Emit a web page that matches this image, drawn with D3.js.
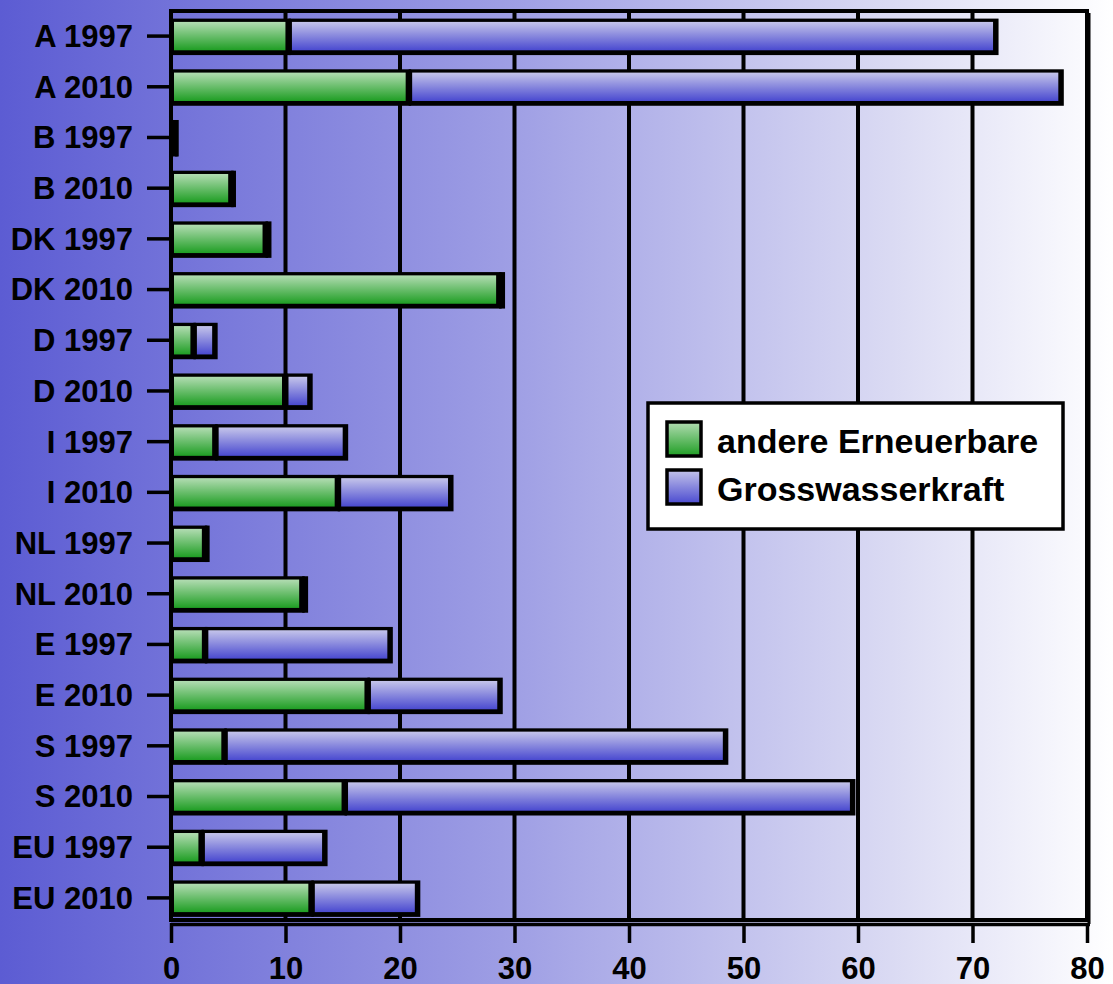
<!DOCTYPE html>
<html>
<head>
<meta charset="utf-8">
<script src="https://cdn.jsdelivr.net/npm/d3@7"></script>
<style>
  html, body { margin: 0; padding: 0; background: #fff; }
  svg { display: block; font-family: "Liberation Sans", Arial, sans-serif; font-weight: bold; }
</style>
</head>
<body>
<svg id="chart"></svg>
<script>
var categories = ["A 1997", "A 2010", "B 1997", "B 2010", "DK 1997", "DK 2010", "D 1997", "D 2010",
  "I 1997", "I 2010", "NL 1997", "NL 2010", "E 1997", "E 2010", "S 1997", "S 2010", "EU 1997", "EU 2010"];
var andereErneuerbare = [10.3, 20.8, 0.4, 5.3, 8.3, 28.7, 2.0, 10.0, 3.9, 14.6, 3.0, 11.5, 3.0, 17.2, 4.7, 15.2, 2.7, 12.3];
var grosswasserkraft = [61.8, 57.0, 0.1, 0.2, 0.3, 0.3, 1.9, 2.2, 11.4, 9.9, 0.2, 0.3, 16.2, 11.6, 43.8, 44.4, 10.8, 9.3];
var xTicks = [0, 10, 20, 30, 40, 50, 60, 70, 80];
var seriesNames = ["andere Erneuerbare", "Grosswasserkraft"];

var width = 1113;
var height = 984;
var mLeft = 171, mRight = 1087, mTop = 11, mBottom = 920;

var svg = d3.select("#chart").attr("width", width).attr("height", height);
var defs = svg.append("defs");

var bg = defs.append("linearGradient").attr("id", "bg").attr("x1", 0).attr("x2", 1).attr("y1", 0).attr("y2", 0);
bg.append("stop").attr("offset", 0).attr("stop-color", "#5c5cd3");
bg.append("stop").attr("offset", 0.45).attr("stop-color", "#9d9de4");
bg.append("stop").attr("offset", 0.8).attr("stop-color", "#dadaf3");
bg.append("stop").attr("offset", 1).attr("stop-color", "#ffffff");

var gGreen = defs.append("linearGradient").attr("id", "gGreen").attr("x1", 0).attr("x2", 0).attr("y1", 0).attr("y2", 1);
gGreen.append("stop").attr("offset", 0).attr("stop-color", "#b2dcb2");
gGreen.append("stop").attr("offset", 1).attr("stop-color", "#1f9e24");
var gBlue = defs.append("linearGradient").attr("id", "gBlue").attr("x1", 0).attr("x2", 0).attr("y1", 0).attr("y2", 1);
gBlue.append("stop").attr("offset", 0).attr("stop-color", "#c4c4ea");
gBlue.append("stop").attr("offset", 1).attr("stop-color", "#4a4ad0");
var fills = ["url(#gGreen)", "url(#gBlue)"];

svg.append("rect").attr("width", width).attr("height", height).attr("fill", "url(#bg)");

var x = d3.scaleLinear().domain([0, 80]).range([mLeft, mRight]);
var y = d3.scaleBand().domain(categories).range([mTop, mBottom + 3]).paddingInner(0.31).paddingOuter(0.15);

// grid lines
svg.append("g").selectAll("line").data(xTicks.slice(1, -1)).join("line")
  .attr("x1", d => x(d)).attr("x2", d => x(d))
  .attr("y1", mTop).attr("y2", mBottom)
  .attr("stroke", "#000").attr("stroke-width", 4);

// frame
svg.append("rect").attr("x", mLeft).attr("y", mTop).attr("width", mRight - mLeft).attr("height", mBottom - mTop)
  .attr("fill", "none").attr("stroke", "#000").attr("stroke-width", 4);
svg.append("line").attr("x1", mRight + 2).attr("x2", mRight + 2).attr("y1", mTop + 2).attr("y2", mBottom + 4)
  .attr("stroke", "#000").attr("stroke-width", 3);
svg.append("line").attr("x1", mLeft).attr("x2", mRight + 3).attr("y1", mBottom + 4.5).attr("y2", mBottom + 4.5)
  .attr("stroke", "#000").attr("stroke-width", 3.5);

// stacked bars: black outline block (with small shadow) under an inset gradient fill
var table = categories.map((c, i) => ({cat: c, a: andereErneuerbare[i], g: grosswasserkraft[i]}));
var stacked = d3.stack().keys(["a", "g"])(table);
var segs = [];
stacked.forEach((layer, k) => layer.forEach(d => segs.push({k: k, cat: d.data.cat, x0: x(d[0]), x1: x(d[1])})));

var bw = y.bandwidth();
svg.append("g").selectAll("rect").data(segs).join("rect")
  .attr("x", d => d.x0 - 0.5)
  .attr("y", d => y(d.cat))
  .attr("width", d => d.x1 - d.x0 + 2.5)
  .attr("height", bw + 1.5)
  .attr("fill", "#000");
svg.append("g").selectAll("rect").data(segs.filter(d => d.x1 - d.x0 > 7)).join("rect")
  .attr("x", d => d.x0 + 3)
  .attr("y", d => y(d.cat) + 3.3)
  .attr("width", d => d.x1 - d.x0 - 6.5)
  .attr("height", bw - 6.6)
  .attr("fill", d => fills[d.k]);

// axes
var yAxis = svg.append("g").attr("transform", "translate(" + mLeft + ",0)")
  .call(d3.axisLeft(y).tickSize(24).tickPadding(14));
yAxis.select(".domain").remove();
yAxis.selectAll("line").attr("stroke", "#000").attr("stroke-width", 3.5);
yAxis.selectAll("text").attr("font-size", 31).attr("font-family", "Liberation Sans, Arial, sans-serif")
  .attr("font-weight", "bold").attr("fill", "#000").attr("dy", "0.35em");

var xAxis = svg.append("g").attr("transform", "translate(0," + (mBottom + 3) + ")")
  .call(d3.axisBottom(x).tickValues(xTicks).tickSize(20).tickPadding(14));
xAxis.select(".domain").remove();
xAxis.selectAll("line").attr("stroke", "#000").attr("stroke-width", 3.5);
xAxis.selectAll("text").attr("font-size", 31).attr("font-family", "Liberation Sans, Arial, sans-serif")
  .attr("font-weight", "bold").attr("fill", "#000");

// legend
var legend = svg.append("g").attr("transform", "translate(648,403)");
legend.append("rect").attr("width", 415).attr("height", 126)
  .attr("fill", "#fff").attr("stroke", "#000").attr("stroke-width", 3.5);
var items = legend.selectAll("g").data(seriesNames).join("g")
  .attr("transform", (d, i) => "translate(19," + (19 + i * 48) + ")");
items.append("rect").attr("width", 34).attr("height", 34)
  .attr("fill", (d, i) => fills[i]).attr("stroke", "#000").attr("stroke-width", 3.5);
items.append("text").attr("x", 50).attr("y", 31).attr("font-size", 34).attr("fill", "#000").text(d => d);
</script>
</body>
</html>
